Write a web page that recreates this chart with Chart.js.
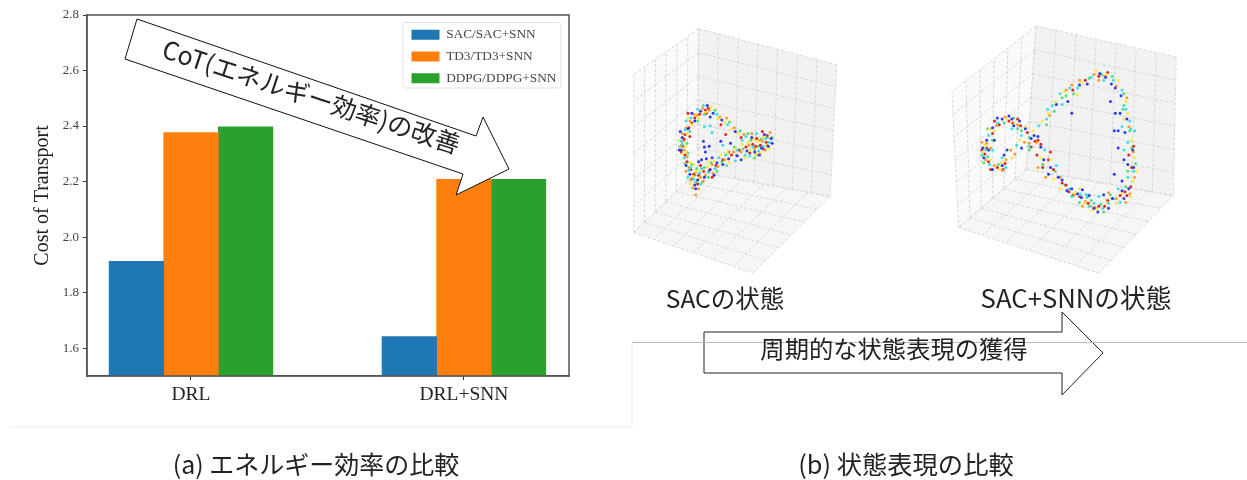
<!DOCTYPE html>
<html>
<head>
<meta charset="utf-8">
<title>CoT and state representation</title>
<script src="https://cdn.jsdelivr.net/npm/chart.js@4/dist/chart.umd.min.js"></script>
<style>
  html, body { margin: 0; padding: 0; background: #fff; }
  #page { position: relative; width: 1247px; height: 480px; overflow: hidden; }
  #page canvas { position: absolute; }
  #cotWrap { position: absolute; left: 0; top: 0; width: 632px; height: 427px; }
  #sacWrap { position: absolute; left: 625px; top: 20px; width: 240px; height: 262px; filter: blur(0.6px); }
  #snnWrap { position: absolute; left: 945px; top: 20px; width: 240px; height: 262px; filter: blur(0.6px); }
  #overlay { position: absolute; left: 0; top: 0; }
  #overlay text { font-family: "Noto Sans CJK JP", "Noto Sans", sans-serif; fill: #222; }
</style>
</head>
<body>
<div id="page">
  <div id="cotWrap"><canvas id="cotChart"></canvas></div>
  <div id="sacWrap"><canvas id="sacChart"></canvas></div>
  <div id="snnWrap"><canvas id="snnChart"></canvas></div>
  <svg id="overlay" width="1247" height="480">
    <line x1="632" y1="427" x2="10" y2="427" stroke="#ececec"/>
    <line x1="632" y1="343" x2="632" y2="427" stroke="#e6e6e6"/>
    <polygon points="137,19 125,59 463,174 456,195 509,169 483,117 476,136" fill="#fff" stroke="#111" stroke-width="1"/>
    <text x="311" y="106" font-size="25" text-anchor="middle" transform="rotate(18.2 311 98)">CoT(エネルギー効率)の改善</text>
    <polygon points="704,332 1062,332 1062,312 1103,353 1062,395 1062,373 704,373" fill="#fff" stroke="#222" stroke-width="1"/>
    <line x1="632" y1="342.5" x2="1247" y2="342.5" stroke="#bbb"/>
    <text x="894" y="358" font-size="24.3" text-anchor="middle">周期的な状態表現の獲得</text>
    <text x="725" y="308" font-size="24.5" text-anchor="middle">SACの状態</text>
    <text x="1076" y="308" font-size="25.7" text-anchor="middle">SAC+SNNの状態</text>
    <text x="316" y="474" font-size="25" text-anchor="middle">(a) エネルギー効率の比較</text>
    <text x="906" y="474" font-size="25.3" text-anchor="middle">(b) 状態表現の比較</text>
  </svg>
</div>

<script>
// bar chart values
const groups = ["DRL", "DRL+SNN"];
const groupPos = [0, 1];
const sacValues = [1.913, 1.642];
const td3Values = [2.377, 2.208];
const ddpgValues = [2.397, 2.208];
const seriesNames = ["SAC/SAC+SNN", "TD3/TD3+SNN", "DDPG/DDPG+SNN"];
const seriesColors = ["#1f77b4", "#ff7f0e", "#2ca02c"];
const yTicks = [1.6, 1.8, 2.0, 2.2, 2.4, 2.6, 2.8];

// 3D scatter clouds, projected positions
const sacBlue = [[706,104],[712,112],[699,110],[693,120],[686,128],[680,137],[679,150],[684,166],[688,175],[696,181],[703,178],[709,170],[716,163],[722,165],[728,159],[737,156],[747,151],[755,152],[762,148],[769,146],[772,138],[765,134],[752,137],[735,131],[721,119],[709,116],[703,147],[708,146],[702,141],[704,152],[700,160],[705,159],[711,158],[697,162],[730,143],[720,141],[693,186],[694,190],[677,150],[678,131],[690,112],[713,176],[741,160],[760,155],[773,143]];
const sacCyan = [[702,104],[696,108],[689,117],[683,129],[680,144],[682,158],[687,171],[692,180],[698,174],[707,173],[714,169],[726,166],[718,158],[737,150],[745,155],[753,147],[759,151],[766,138],[770,142],[757,133],[746,136],[727,124],[716,113],[709,125],[703,126],[711,132],[722,145],[689,168],[699,185],[735,161],[679,141],[684,120],[700,169],[750,156],[764,146],[742,140],[686,178]];
const sacYellow = [[710,105],[704,111],[697,117],[690,124],[685,133],[683,146],[684,152],[688,163],[691,177],[700,171],[706,167],[713,161],[720,155],[727,152],[735,149],[742,144],[750,150],[756,154],[761,153],[758,141],[764,136],[748,142],[738,133],[731,128],[724,121],[717,118],[697,180],[688,185],[680,154],[686,117],[694,172],[707,162],[729,163],[745,158],[754,139],[770,148],[692,165],[677,140]];
const sacOrange = [[708,109],[701,107],[695,114],[688,120],[684,127],[681,141],[682,150],[685,157],[687,168],[694,173],[699,178],[704,176],[711,165],[717,167],[724,160],[733,152],[741,152],[749,145],[755,149],[760,140],[768,145],[763,141],[752,133],[744,134],[734,127],[726,117],[719,116],[694,196],[691,189],[697,190],[712,174],[771,132],[679,145],[684,172],[689,181],[702,182],[736,155],[758,155],[766,150],[692,113],[680,133]];
const sacRed = [[707,107],[704,109],[698,113],[693,117],[690,122],[687,127],[683,134],[682,139],[681,146],[683,155],[685,162],[689,170],[692,175],[697,176],[702,172],[708,171],[715,166],[722,160],[731,155],[739,150],[746,147],[753,144],[757,138],[761,145],[764,149],[756,146],[767,142],[763,131],[725,134],[720,124],[741,137],[696,185],[690,180],[679,152],[688,136],[699,166],[711,178],[728,152],[750,153],[768,135],[686,112],[705,112]];
const sacGreen = [[703,113],[696,120],[688,131],[685,143],[686,153],[690,165],[695,169],[703,168],[710,163],[716,172],[725,155],[734,147],[743,149],[751,140],[759,146],[768,137],[762,139],[748,133],[740,130],[729,121],[714,109],[693,176],[701,183],[678,146],[683,164],[694,183],[707,178],[721,162],[755,158],[773,137]];

const snnBlue = [[1007,115],[1000,118],[990,127],[984,140],[981,158],[990,170],[1000,166],[1018,120],[1012,125],[1024,128],[1030,138],[1037,136],[1020,148],[1005,150],[1002,155],[1040,147],[1056,103],[1068,100],[1072,112],[1088,82],[1101,71],[1113,82],[1117,86],[1123,94],[1112,100],[1117,112],[1116,130],[1122,112],[1120,130],[1127,132],[1120,148],[1126,160],[1135,150],[1130,165],[1116,175],[1124,182],[1131,190],[1126,200],[1105,196],[1090,197],[1083,191],[1078,195],[1072,190],[1062,181],[1048,175],[1043,160],[1050,168],[1058,178],[1099,214],[1110,210],[1114,200],[995,117],[980,148],[986,150],[992,140],[1010,118],[1033,135],[1067,192],[1082,199],[1095,210],[1124,192],[1136,168],[1129,118],[1107,75],[1080,83]];
const snnCyan = [[995,122],[986,135],[983,150],[987,165],[1000,158],[1010,128],[1020,135],[1028,146],[1038,125],[1046,118],[1052,104],[1060,92],[1070,86],[1078,86],[1092,75],[1105,78],[1115,78],[1124,88],[1126,104],[1128,108],[1132,120],[1130,142],[1136,172],[1130,178],[1120,190],[1100,198],[1090,208],[1081,196],[1070,190],[1056,166],[1044,150],[1110,205],[1095,205],[1124,126],[1133,128],[990,150],[979,155],[1004,168],[1015,145],[1072,198],[1087,196],[1104,210],[1122,204],[1137,130],[1126,150],[1062,103],[1047,108]];
const snnYellow = [[1005,118],[992,130],[982,145],[988,160],[997,170],[1010,158],[1025,126],[1018,140],[1032,130],[1042,120],[1048,112],[1055,100],[1064,90],[1082,80],[1097,68],[1108,72],[1120,78],[1128,100],[1130,112],[1134,140],[1137,158],[1139,172],[1135,182],[1124,194],[1108,204],[1098,211],[1085,205],[1074,194],[1060,190],[1050,160],[1040,158],[1093,212],[980,152],[987,128],[999,163],[1013,122],[1053,180],[1080,190],[1118,205],[1133,198],[1126,118],[1078,93]];
const snnGreen = [[1012,117],[1016,128],[990,140],[985,157],[996,165],[1028,137],[1046,124],[1054,110],[1062,96],[1074,92],[1090,76],[1103,72],[1114,74],[1126,92],[1125,108],[1132,130],[1134,148],[1138,164],[1130,172],[1115,200],[1102,206],[1088,199],[1065,186],[1042,165],[1055,172],[1028,150],[1105,214],[1080,204],[985,128],[981,163],[1002,122],[1020,130],[1092,202],[1112,196],[1128,188],[1066,94]];
const snnOrange = [[1003,116],[994,125],[984,143],[983,160],[992,166],[1004,160],[1013,154],[1016,124],[1028,143],[1036,142],[1049,114],[1066,88],[1080,78],[1095,72],[1106,74],[1118,84],[1129,96],[1131,126],[1136,152],[1137,178],[1132,195],[1118,200],[1096,209],[1086,203],[1068,191],[1060,178],[1045,178],[1037,168],[1075,196],[1110,194],[988,148],[979,142],[1000,171],[1009,150],[1023,142],[1083,208],[1092,208],[1128,204],[1100,78],[1072,83]];
const snnRed = [[1007,120],[997,124],[990,133],[984,148],[982,154],[986,162],[995,168],[1003,164],[1011,122],[1019,125],[1026,132],[1034,141],[1037,140],[1030,147],[1040,144],[1048,160],[1050,152],[1053,170],[1073,88],[1086,78],[1100,74],[1109,70],[1136,146],[1134,168],[1133,188],[1129,197],[1122,197],[1109,202],[1100,208],[1089,205],[1073,197],[1069,193],[1062,184],[1042,168],[1036,155],[992,120],[979,150],[988,170],[1001,170],[1016,118],[1066,186],[1080,198],[1106,208],[1127,193],[1131,155]];

const cloudColors = ["#2a3cf0", "#35e0ea", "#ffe83a", "#ff9a2e", "#e3241c", "#4ee07a"];

// corners of the three visible panes: back bottom, back top, far end top, far end bottom
const sacPanes = {
  right: [[696,172],[697,25],[840,62],[833,198]],
  left: [[696,172],[697,25],[630,72],[630,235]],
  floor: [[696,172],[833,198],[753,277],[630,235]],
};
const snnPanes = {
  right: [[1025,170],[1035,22],[1180,54],[1177,197]],
  left: [[1025,170],[1035,22],[948,90],[955,230]],
  floor: [[1025,170],[1177,197],[1100,277],[955,230]],
};

function lerp(a, b, t) {
  return { x: a[0] + (b[0] - a[0]) * t, y: a[1] + (b[1] - a[1]) * t };
}

// grid of a pane as one broken line, u steps one way and v steps the other
function paneLines(q, u, v) {
  let pts = [];
  for (let i = 0; i <= u; i++) {
    pts.push(lerp(q[0], q[3], i / u), lerp(q[1], q[2], i / u), { x: NaN, y: NaN });
  }
  for (let j = 0; j <= v; j++) {
    pts.push(lerp(q[0], q[1], j / v), lerp(q[3], q[2], j / v), { x: NaN, y: NaN });
  }
  return pts;
}

const panePlugin = {
  id: "panes",
  beforeDatasetsDraw(chart, args, opts) {
    const ctx = chart.ctx;
    const { x, y } = chart.scales;
    opts.list.forEach((p) => {
      ctx.beginPath();
      p.corners.forEach((c, i) => {
        i == 0
          ? ctx.moveTo(x.getPixelForValue(c[0]), y.getPixelForValue(c[1]))
          : ctx.lineTo(x.getPixelForValue(c[0]), y.getPixelForValue(c[1]));
      });
      ctx.closePath();
      ctx.fillStyle = p.color;
      ctx.fill();
    });
  },
};

function drawCloud(id, panes, clouds, box) {
  const toPts = (arr) => arr.map((p) => ({ x: p[0], y: p[1] }));
  const grid = (q, u, v) => ({
    data: paneLines(q, u, v),
    showLine: true,
    borderColor: "#d6d6d6",
    borderWidth: 1,
    borderDash: [3, 2],
    pointRadius: 0,
    order: 2,
  });
  new Chart(document.getElementById(id).getContext("2d"), {
    type: "scatter",
    data: {
      datasets: [
        grid(panes.right, 7, 6),
        grid(panes.left, 6, 6),
        grid(panes.floor, 6, 6),
      ].concat(
        clouds.map((c, i) => ({
          data: toPts(c),
          backgroundColor: cloudColors[i],
          pointRadius: 1.5,
          borderWidth: 0,
          order: 1,
        }))
      ),
    },
    options: {
      responsive: true,
      maintainAspectRatio: false,
      animation: false,
      layout: { padding: 0 },
      scales: {
        x: { type: "linear", display: false, min: box[0], max: box[1] },
        y: { type: "linear", display: false, min: box[2], max: box[3], reverse: true },
      },
      plugins: {
        legend: { display: false },
        tooltip: { enabled: false },
        panes: {
          list: [
            { corners: panes.left, color: "#fafafa" },
            { corners: panes.right, color: "#f2f2f2" },
            { corners: panes.floor, color: "#f6f6f6" },
          ],
        },
      },
    },
    plugins: [panePlugin],
  });
}

// matplotlib style frame and the legend box inside the axes
const framePlugin = {
  id: "frame",
  afterLayout(chart) {
    const legend = chart.legend;
    legend.left = 403;
    legend.top = 19.5;
  },
  beforeDraw(chart) {
    const ctx = chart.ctx;
    ctx.save();
    ctx.fillStyle = "#fff";
    ctx.strokeStyle = "#e2e2e2";
    ctx.lineWidth = 1;
    ctx.beginPath();
    ctx.roundRect(403, 22.5, 158, 65.5, 2);
    ctx.fill();
    ctx.stroke();
    ctx.restore();
  },
  afterDraw(chart) {
    const a = chart.chartArea;
    const ctx = chart.ctx;
    ctx.save();
    ctx.strokeStyle = "#555";
    ctx.lineWidth = 1.5;
    ctx.strokeRect(a.left, a.top, a.right - a.left, a.bottom - a.top);
    ctx.restore();
  },
};

function drawCot() {
  const seriesValues = [sacValues, td3Values, ddpgValues];
  new Chart(document.getElementById("cotChart").getContext("2d"), {
    type: "bar",
    data: {
      datasets: seriesNames.map((name, i) => ({
        label: name,
        data: groupPos.map((g, k) => ({ x: g, y: seriesValues[i][k] })),
        backgroundColor: seriesColors[i],
        borderWidth: 0,
        barThickness: 54.6,
      })),
    },
    options: {
      responsive: true,
      maintainAspectRatio: false,
      animation: false,
      layout: { padding: { left: 0, top: 15, right: 63, bottom: 0 } },
      scales: {
        x: {
          type: "linear",
          offset: false,
          min: -0.381,
          max: 1.385,
          afterBuildTicks: (axis) => {
            axis.ticks = groupPos.map((g) => ({ value: g }));
          },
          afterFit: (axis) => {
            axis.height = 51;
          },
          grid: { offset: false, drawOnChartArea: false, tickLength: 4, color: "#333" },
          border: { color: "#555", width: 1.5 },
          ticks: {
            autoSkip: false,
            maxRotation: 0,
            padding: 3,
            color: "#222",
            font: { family: "Liberation Serif", size: 19.5 },
            callback: (v) => groups[groupPos.indexOf(v)],
          },
        },
        y: {
          type: "linear",
          min: 1.5,
          max: 2.8,
          afterBuildTicks: (axis) => {
            axis.ticks = yTicks.map((t) => ({ value: t }));
          },
          afterFit: (axis) => {
            axis.width = 87;
          },
          grid: { drawOnChartArea: false, tickLength: 4, color: "#333" },
          border: { color: "#555", width: 1.5 },
          title: {
            display: true,
            text: "Cost of Transport",
            color: "#222",
            font: { family: "Liberation Serif", size: 20 },
            padding: { top: 31, bottom: 4 },
          },
          ticks: {
            padding: 4,
            color: "#444",
            font: { family: "Liberation Serif", size: 13 },
            callback: (v) => v.toFixed(1),
          },
        },
      },
      plugins: {
        tooltip: { enabled: false },
        legend: {
          position: "chartArea",
          align: "start",
          labels: {
            boxWidth: 28,
            boxHeight: 10,
            padding: 8.5,
            color: "#444",
            font: { family: "Liberation Serif", size: 13.3 },
          },
        },
      },
    },
    plugins: [framePlugin],
  });
}

drawCot();
drawCloud("sacChart", sacPanes, [sacBlue, sacCyan, sacYellow, sacOrange, sacRed, sacGreen], [625, 865, 20, 282]);
drawCloud("snnChart", snnPanes, [snnBlue, snnCyan, snnYellow, snnOrange, snnRed, snnGreen], [945, 1185, 20, 282]);
</script>
</body>
</html>
